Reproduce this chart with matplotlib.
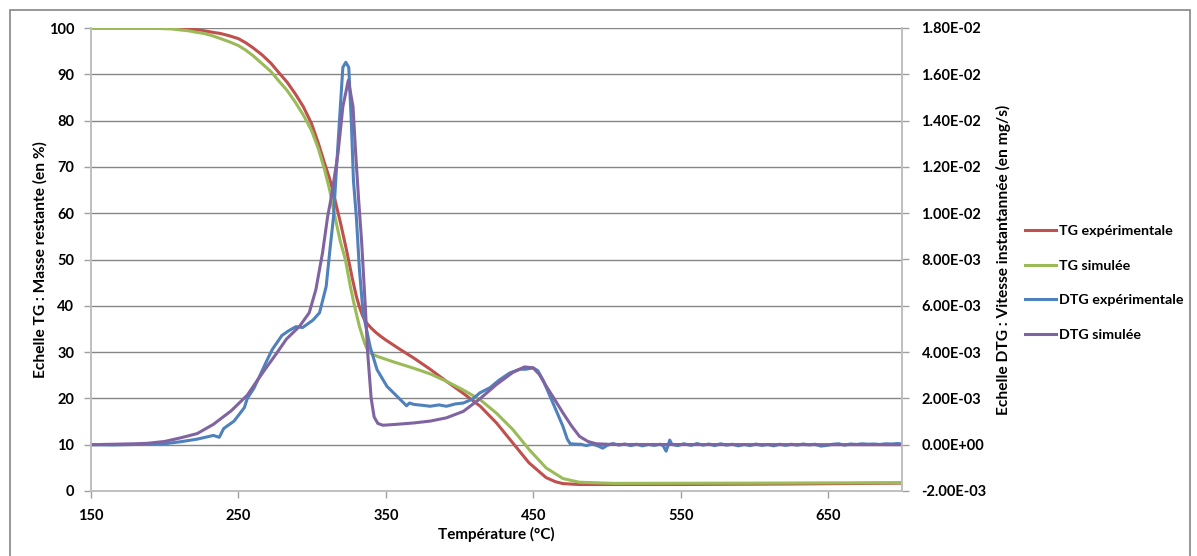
import matplotlib
matplotlib.use("Agg")
import matplotlib.pyplot as plt
from matplotlib.patches import Rectangle
from matplotlib.ticker import FuncFormatter

plt.rcParams['font.family'] = ['Lato', 'DejaVu Sans']
plt.rcParams['font.weight'] = 'bold'

# TG experimental (% remaining mass)
t_tg_exp = [150, 190, 205, 216, 225, 232, 238, 244, 250, 255, 260, 266, 272, 277, 283, 288.5, 294,
            299.5, 304, 308.5, 312, 315, 319.5, 323.3, 327.5, 330, 332, 334, 336, 340, 343, 346.5,
            350, 360, 369, 380, 391, 402, 414, 425, 436, 447, 458.6, 465, 470, 481,
            550, 620, 700]
tg_exp = [100, 100, 99.9, 99.8, 99.5, 99.1, 98.8, 98.3, 97.7, 96.8, 95.7, 94.2, 92.4, 90.5, 88.3,
          85.8, 83, 79.4, 75.3, 70.7, 67.3, 63.5, 57.5, 52, 45.5, 42, 39.8, 38, 36.6, 35.2, 34.3,
          33.4, 32.6, 30.5, 28.7, 26.3, 23.7, 21.2, 18.3, 14.7, 10.4, 6.1, 2.9, 2.0, 1.6, 1.4,
          1.4, 1.5, 1.7]

# TG simulated
t_tg_sim = [150, 195, 205, 210, 216, 221, 227, 232.5, 238, 244, 250, 255, 260, 266, 272, 277, 283,
            288.5, 294, 299.5, 304, 308.5, 312, 315, 319, 322.5, 326, 328, 330.4, 332, 334, 335.5,
            337, 338.5, 340, 344, 355, 369, 380, 391, 402, 414, 425, 436, 447, 458.6,
            470, 481, 504, 600, 700]
tg_sim = [100, 99.9, 99.8, 99.6, 99.4, 99.1, 98.8, 98.3, 97.7, 97, 96.2, 95.2, 94.0, 92.3, 90.6,
          88.7, 86.5, 84, 81.2, 77.9, 74.1, 69.3, 64.8, 59.9, 54, 50, 44, 41, 37.7, 35.6, 33.5, 32,
          30.8, 30.1, 29.7, 29.1, 27.9, 26.5, 25.3, 23.7, 21.9, 19.7, 16.8, 13.3, 9, 5,
          2.7, 1.9, 1.65, 1.7, 1.8]

# DTG experimental (mg/s)
t_dtg_exp = [150, 165, 188, 200, 211, 222, 233, 237, 240, 247, 254, 256, 260.5, 264.5, 269, 273,
             279.5, 284, 289, 293.5, 300.5, 305, 309.5, 312, 314.5, 316, 318.5, 320.8, 322.8, 324.8,
             326.5, 328, 330, 332, 334.5, 339.4, 344, 350.7, 357.4, 364, 366, 369, 375, 380, 386,
             391, 397, 402.5, 409, 413.7, 420.5, 427, 434, 440.8, 445, 449.8, 453, 456.5, 463.3,
             470, 473, 475, 480,
             482, 486, 490, 494, 497, 500, 504, 508, 512, 516, 520, 524, 528, 532, 536, 538, 540,
             541, 542.5, 544, 548, 552, 557, 561, 565, 569, 573, 577, 581, 585, 589, 593, 597, 601,
             605, 609, 613, 617, 621, 625, 629, 633, 637, 641, 645, 649, 653, 657, 661, 665, 669,
             673, 677, 681, 685, 689, 693, 697, 700]
dtg_exp = [0, -0.00001, 0.00002, 0.00004, 0.00013, 0.00024, 0.0004, 0.00032, 0.0007, 0.00102,
           0.0016, 0.002, 0.00244, 0.00298, 0.0036, 0.00412, 0.00472, 0.00492, 0.0051, 0.00506,
           0.00538, 0.0057, 0.00684, 0.0084, 0.00986, 0.01144, 0.014, 0.0163, 0.01652, 0.0163,
           0.014, 0.0114, 0.0098, 0.0076, 0.0057, 0.0042, 0.00324, 0.00252, 0.0021, 0.00168,
           0.0018, 0.00174, 0.0017, 0.00166, 0.00172, 0.00166, 0.00176, 0.0018, 0.00198, 0.00224,
           0.00246, 0.0028, 0.0031, 0.00326, 0.00326, 0.00332, 0.0032, 0.0028, 0.0018, 0.0008,
           0.00024, 0.00004, 0.00002,
           0.00002, -0.00004, 0.00003, -0.00006, -0.00015, -0.00003, 0.00005, -0.00002, 0.00003,
           -0.00004, 0.00002, -0.00005, 0.00001, -0.00003, 0.00002, -0.00004, -0.00028,
           -0.0001, 0.0002, 0.00001, -0.00004, 0.00004, -0.00003, 0.00005, -0.00002, 0.00003,
           -0.00004, 0.00004, -0.00002, 0.00002, -0.00005, 0.00001, -0.00004, 0.00003, -0.00003,
           0.00001, -0.00005, 0.00002, -0.00003, 0.00002, -0.00002, 0.00003, -0.00001, 0.00002,
           -0.00006, -0.00003, 0.00002, 0.00004, -0.00002, 0.00003, 0.00001, 0.00004, 0.00002,
           0.00003, 0.00001, 0.00004, 0.00003, 0.00005, 0.00003]

# DTG simulated (mg/s)
t_dtg_sim = [150, 180, 188, 200, 211, 222, 233, 245, 256, 263, 269, 276, 282.5, 291.5, 298, 302.5,
             307, 310.5, 313, 317.5, 320.8, 324.5, 327.7, 329.5, 331.5, 333.5, 336, 337.6, 340, 342,
             344.5, 348, 357, 369, 380, 391, 402.5, 413.7, 425, 436, 444, 449.8, 454, 458.8, 464,
             470, 476, 481.3, 487, 492.6, 504, 700]
dtg_sim = [0, 0.00004, 0.00006, 0.00014, 0.0003, 0.00048, 0.00088, 0.00146, 0.00214, 0.0028,
           0.00334, 0.00396, 0.00456, 0.00512, 0.0057, 0.0067, 0.00828, 0.00986, 0.0107, 0.01258,
           0.0146, 0.01574, 0.0146, 0.01258, 0.01058, 0.0088, 0.006, 0.004, 0.002, 0.0012,
           0.00092, 0.00084, 0.00088, 0.00094, 0.00102, 0.00116, 0.00144, 0.00198, 0.0026, 0.00312,
           0.00336, 0.00332, 0.00304, 0.00252, 0.002, 0.00138, 0.0008, 0.00036, 0.00014, 0.00004,
           0.00001, 0]

x_ticks = [150, 250, 350, 450, 550, 650]
left_ticks = [0, 10, 20, 30, 40, 50, 60, 70, 80, 90, 100]
right_ticks = [-0.002, 0, 0.002, 0.004, 0.006, 0.008, 0.010, 0.012, 0.014, 0.016, 0.018]

grey = '#868686'

fig = plt.figure(figsize=(11.97, 5.56), dpi=100)
ax = fig.add_axes([91 / 1197, 1 - 491 / 556, (902 - 91) / 1197, (491 - 28) / 556])
ax2 = ax.twinx()

# chart frame around everything
fig.patches.append(Rectangle((10 / 1197, -0.05), 1180 / 1197, 1.05 - 10 / 556,
                             transform=fig.transFigure, fill=False, edgecolor=grey, lw=1.2))

l1, = ax.plot(t_tg_exp, tg_exp, color='#C0504D', lw=2.2, label='TG expérimentale')
l2, = ax.plot(t_tg_sim, tg_sim, color='#9BBB59', lw=2.2, label='TG simulée')
l3, = ax2.plot(t_dtg_exp, dtg_exp, color='#4F81BD', lw=2.2, label='DTG expérimentale')
l4, = ax2.plot(t_dtg_sim, dtg_sim, color='#8064A2', lw=2.2, label='DTG simulée')

ax.set_xlim(150, 700)
ax.set_ylim(0, 100)
ax2.set_ylim(-0.002, 0.018)
ax.set_xticks(x_ticks)
ax.set_yticks(left_ticks)
ax2.set_yticks(right_ticks)
ax2.yaxis.set_major_formatter(FuncFormatter(lambda v, p: '%.2E' % v))

ax.grid(axis='y', color=grey, lw=1)
ax.set_axisbelow(True)
for a in (ax, ax2):
    a.spines['top'].set_visible(False)
    for s in ('left', 'right', 'bottom'):
        a.spines[s].set_color('#BFBFBF')
        a.spines[s].set_linewidth(1.2)
    a.tick_params(colors='#A0A0A0', labelcolor='black', labelsize=10.5, length=5, width=1)
ax.tick_params(axis='y', pad=7)
ax2.tick_params(axis='y', pad=9)
ax.tick_params(axis='x', pad=8)

ax.set_xlabel('Température (°C)', fontsize=11, fontweight='bold', labelpad=3)
ax.set_ylabel('Echelle TG : Masse restante (en %)', fontsize=11.2, fontweight='bold', labelpad=1)
ax2.set_ylabel('Echelle DTG : Vitesse instantannée (en mg/s)', fontsize=11.2, fontweight='bold', labelpad=7)

fig.legend(handles=[l1, l2, l3, l4], loc='upper left', bbox_to_anchor=(1025 / 1197, 1 - 225 / 556),
           frameon=False, fontsize=10.3, handlelength=2.2, handletextpad=0.2, labelspacing=1.58,
           borderpad=0, borderaxespad=0)

fig.savefig('out.png', dpi=100)
